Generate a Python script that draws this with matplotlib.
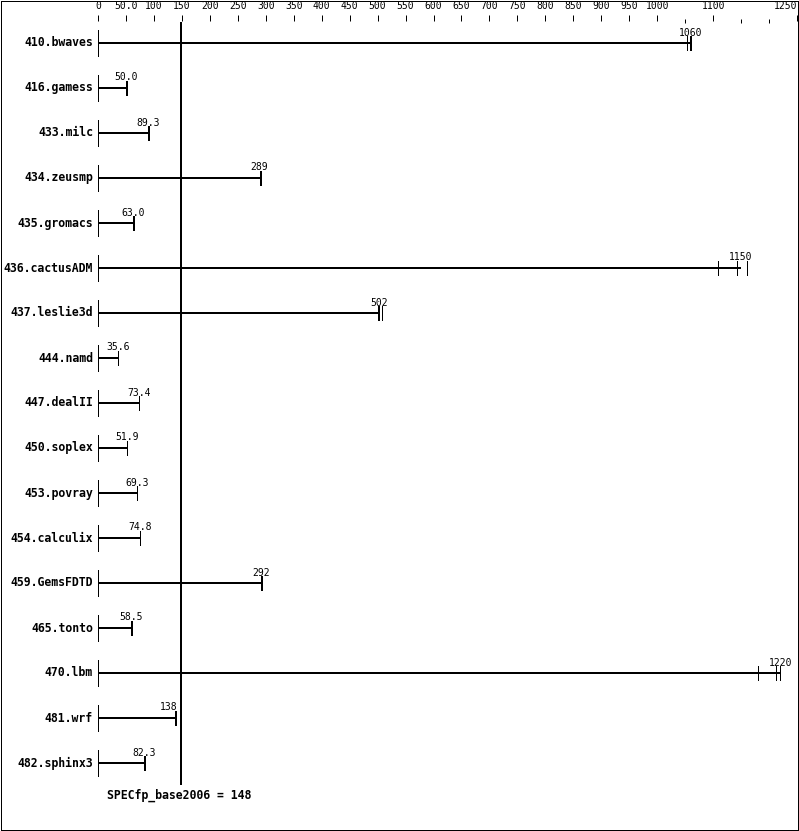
import matplotlib
matplotlib.use('Agg')
import matplotlib.pyplot as plt

# datos de la grafica (SPECfp_base2006)
benchmarks = ['410.bwaves', '416.gamess', '433.milc', '434.zeusmp',
              '435.gromacs', '436.cactusADM', '437.leslie3d', '444.namd',
              '447.dealII', '450.soplex', '453.povray', '454.calculix',
              '459.GemsFDTD', '465.tonto', '470.lbm', '481.wrf',
              '482.sphinx3']
valores = [1060, 50.0, 89.3, 289, 63.0, 1150, 502, 35.6, 73.4, 51.9,
           69.3, 74.8, 292, 58.5, 1220, 138, 82.3]
etiquetas = ['1060', '50.0', '89.3', '289', '63.0', '1150', '502', '35.6',
             '73.4', '51.9', '69.3', '74.8', '292', '58.5', '1220', '138',
             '82.3']
corridas = [[1053, 1058, 1060], [50.0, 50.0, 51.8], [89.3, 89.4, 91.1],
            [289, 289, 291], [63.0, 63.0, 64.8], [1108, 1142, 1160],
            [501, 502, 508], [35.6, 35.6, 35.6], [73.3, 73.4, 73.5],
            [51.8, 51.9, 52.0], [69.2, 69.3, 69.4], [74.8, 74.8, 74.9],
            [291, 292, 294], [58.5, 58.5, 60.3], [1181, 1213, 1220],
            [137, 138, 139.8], [82.3, 82.3, 84.1]]
base = 148
ticks_mayores = list(range(0, 1001, 50)) + [1100, 1250]
ticks_menores = [1050, 1150, 1200]
etiquetas_ticks = ['0', '50.0'] + [str(t) for t in range(100, 1001, 50)] + ['1100', '1250']

W, H = 799, 831
px = 0.72  # un pixel en puntos a 100 dpi

fig = plt.figure(figsize=(W / 100, H / 100), dpi=100)
fig.patch.set_facecolor('white')
ax = fig.add_axes([98 / W, 0, 699 / W, (H - 21) / H])
n = len(benchmarks)
ax.set_xlim(0, 1250)
ax.set_ylim((H - 43) / 45, (21 - 43) / 45)
for s in ax.spines.values():
    s.set_visible(False)
ax.set_yticks([])

ax.xaxis.set_ticks_position('top')
ax.set_xticks(ticks_mayores, labels=etiquetas_ticks)
ax.set_xticks(ticks_menores, minor=True)
ax.tick_params(axis='x', which='major', direction='out', length=6 * px,
               width=1 * px, pad=4 * px, labelsize=7, colors='black')
ax.tick_params(axis='x', which='minor', direction='inout', length=4 * px,
               width=1 * px)
for lab in ax.get_xticklabels():
    lab.set_fontfamily('DejaVu Sans Mono')
ax.get_xticklabels()[-1].set_ha('right')

mono = 'DejaVu Sans Mono'
escala = 699 / 1250  # pixeles por unidad
for i in range(n):
    v = valores[i]
    ax.vlines(0, i - 13 / 45, i + 13 / 45, color='black', lw=1 * px,
              antialiased=False)
    ax.hlines(i, 0, v, color='black', lw=2 * px, antialiased=False)
    for r in corridas[i]:
        ax.vlines(r, i - 7 / 45, i + 7 / 45, color='black', lw=1 * px,
                  antialiased=False)
    # si la etiqueta choca con la linea base se alinea a la derecha
    medio = len(etiquetas[i]) * 3.1
    if v < base and (base - v) * escala < medio:
        ha, dx = 'right', 2 * px
    else:
        ha, dx = 'center', 0
    ax.annotate(etiquetas[i], xy=(v, i - 7 / 45), xytext=(dx, -1.5 * px),
                textcoords='offset points', ha=ha, va='bottom',
                fontsize=7, family=mono)
    ax.annotate(benchmarks[i], xy=(0, i), xytext=(-5 * px, 0),
                textcoords='offset points', ha='right', va='center',
                fontsize=8.3, fontweight='bold', family=mono)

ax.vlines(base, (22 - 43) / 45, n - 0.51, color='black', lw=2 * px,
          antialiased=False)
fig.text(107 / W, 1 - 795 / H, 'SPECfp_base2006 = %d' % base, ha='left',
         va='center', fontsize=8.3, fontweight='bold', family=mono)

fig.patches.append(plt.Rectangle((0.5 / W, 1.5 / H), (W - 2) / W, (H - 2) / H,
                                 transform=fig.transFigure, fill=False,
                                 edgecolor='black', lw=1 * px,
                                 antialiased=False))

fig.savefig('out.png', dpi=100)
